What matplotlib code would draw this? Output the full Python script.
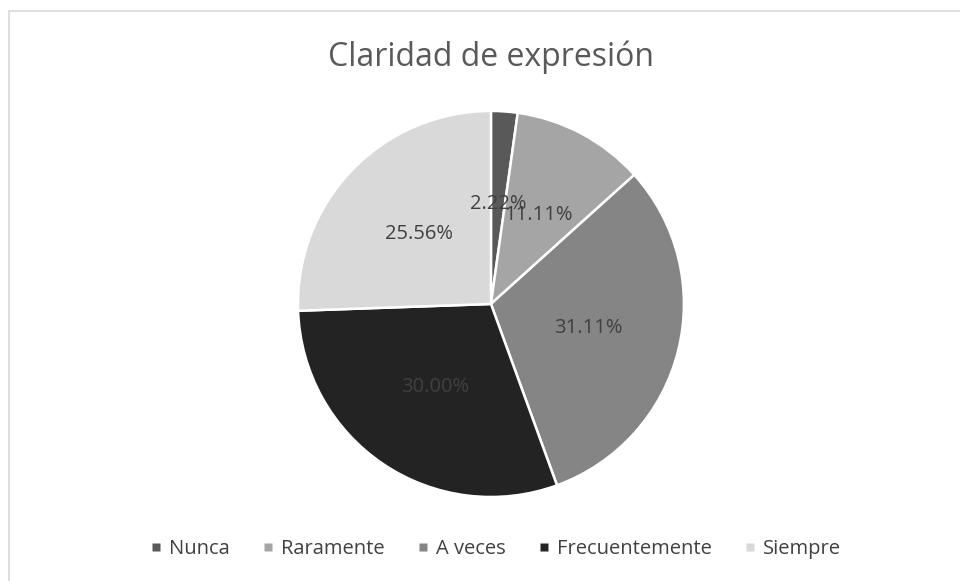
import matplotlib
matplotlib.use("Agg")
import matplotlib.pyplot as plt
from matplotlib.patches import Rectangle
from matplotlib.lines import Line2D

categorias = ["Nunca", "Raramente", "A veces", "Frecuentemente", "Siempre"]
porcentajes = [2.22, 11.11, 31.11, 30.00, 25.56]
colores = ["#595959", "#a5a5a5", "#858585", "#232323", "#d9d9d9"]

plt.rcParams['font.family'] = ['Open Sans', 'DejaVu Sans']

fig = plt.figure(figsize=(9.6, 5.81), dpi=100)

# marco del grafico (solo se ve arriba y a la izquierda)
fig.patches.append(Rectangle((9 / 960, -0.1), 1.2, (581 - 11) / 581 + 0.1,
                             transform=fig.transFigure, fill=False,
                             edgecolor="#d9d9d9", linewidth=1.2))

ax = fig.add_axes([0.3104, 0.1446, 0.402, 0.6644])
wedges, textos, autotextos = ax.pie(
    porcentajes, colors=colores, startangle=90, counterclock=False,
    autopct=lambda p: f"{p:.2f}%", pctdistance=0.52,
    wedgeprops=dict(edgecolor="white", linewidth=1.8),
    textprops=dict(color="#404040", fontsize=14.5))
ax.set_xlim(-1, 1)
ax.set_ylim(-1, 1)
ax.set_aspect("auto")

fig.text(0.5115, 0.902, "Claridad de expresión", ha="center", va="center",
         fontsize=23, color="#595959")

handles = [Line2D([], [], marker="s", linestyle="none", markersize=5.5,
                  markerfacecolor=c, markeredgecolor="none") for c in colores]
fig.legend(handles, categorias, loc="center", bbox_to_anchor=(0.517, 0.055),
           ncol=5, frameon=False, fontsize=14.5, handlelength=0.4,
           handletextpad=0.45, columnspacing=1.7, labelcolor="#404040")

fig.savefig("out.png", dpi=100)
